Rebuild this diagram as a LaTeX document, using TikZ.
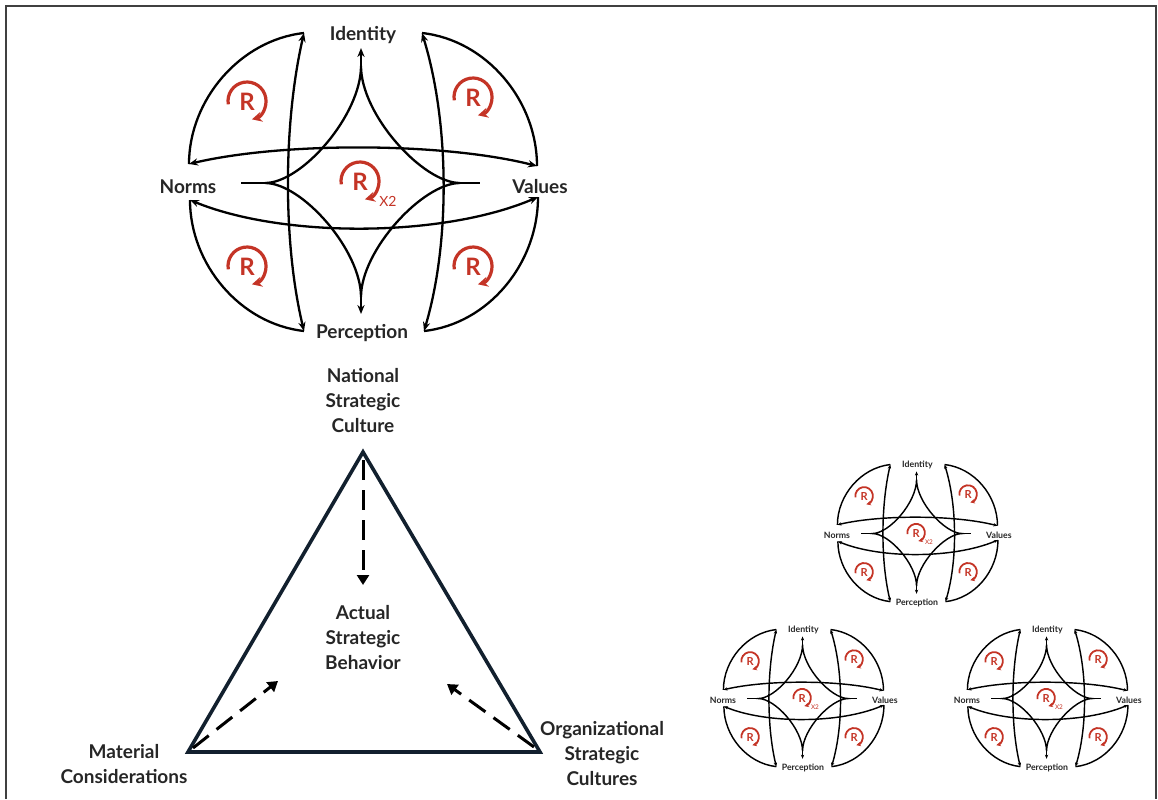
\documentclass[tikz,border=0pt]{standalone}
\usepackage{fontspec}
\setmainfont{Lato}
\usetikzlibrary{positioning, arrows.meta}
\definecolor{loopred}{RGB}{196,52,38}
\definecolor{edgenavy}{RGB}{18,32,46}

% red reinforcing loop: #1 = name, #2 = position
\newcommand{\rloop}[2]{%
  \node[rlabel] (#1) at #2 {R};
  \draw[rcircle] (#1) ++(-18.7,2.3) arc[start angle=-190, end angle=75, radius=19];
}

% culture map: #1 = prefix, #2 = centre, #3 = scale
\newcommand{\culturemap}[3]{%
  \begin{scope}[shift={#2}, scale=#3, transform shape,
      loopline/.style={line width=#3*0.8pt+0.35pt},
      looptip/.style={{Stealth[length=4.5pt, width=3.6pt, scale=#3]}-{Stealth[length=4.5pt, width=3.6pt, scale=#3]}},
      onetip/.style={-{Stealth[length=4.5pt, width=3.6pt, scale=#3]}},
      rcircle/.style={draw=loopred, line width=#3*1.3pt+0.3pt, -{Stealth[length=5pt, width=5pt, scale=#3]}}]
    % labels
    \node[lbl] (#1-id) at (1,-149) {Identity};
    \node[lbl] (#1-pe) at (0,149) {Perception};
    \node[lbl] (#1-no) at (-174,3) {Norms};
    \node[lbl] (#1-va) at (178,3) {Values};
    % loop corners
    \coordinate (#1-nt) at (-173,-20);
    \coordinate (#1-nb) at (-172,16);
    \coordinate (#1-vt) at (175,-18);
    \coordinate (#1-vb) at (176,13);
    \coordinate (#1-il) at (-58,-151);
    \coordinate (#1-ir) at (60,-151);
    \coordinate (#1-pl) at (-58,147);
    \coordinate (#1-pr) at (62,147);
    % cross links
    \draw[loopline, looptip] (#1-nt) .. controls (-80,-42) and (80,-42) .. (#1-vt);
    \draw[loopline, looptip] (#1-nb) .. controls (-80,54) and (80,54) .. (#1-vb);
    \draw[loopline, looptip] (#1-il) .. controls (-79,-60) and (-79,60) .. (#1-pl);
    \draw[loopline, looptip] (#1-ir) .. controls (88,-60) and (88,60) .. (#1-pr);
    % outer arcs
    \draw[loopline] (#1-il) .. controls (-122,-144) and (-173,-84) .. (#1-nt);
    \draw[loopline] (#1-ir) .. controls (124,-144) and (175,-84) .. (#1-vt);
    \draw[loopline] (#1-nb) .. controls (-172,80) and (-122,140) .. (#1-pl);
    \draw[loopline] (#1-vb) .. controls (176,80) and (126,140) .. (#1-pr);
    % inner star
    \coordinate (#1-st) at (-1,-118);
    \coordinate (#1-sl) at (-97,-1);
    \coordinate (#1-sb) at (-1,113);
    \coordinate (#1-sr) at (98,-1);
    \coordinate (#1-it) at (-1,-136);
    \coordinate (#1-pt) at (-1,130);
    \coordinate (#1-nx) at (-121,-1);
    \coordinate (#1-vx) at (118,-1);
    \draw[loopline] (#1-st) .. controls (-1,-69) and (-60,-1) .. (#1-sl)
      .. controls (-60,-1) and (-1,66) .. (#1-sb)
      .. controls (-1,66) and (61,-1) .. (#1-sr)
      .. controls (61,-1) and (-1,-69) .. (#1-st);
    \draw[loopline, onetip] (#1-st) -- (#1-it);
    \draw[loopline, onetip] (#1-sb) -- (#1-pt);
    \draw[loopline] (#1-sl) -- (#1-nx);
    \draw[loopline] (#1-sr) -- (#1-vx);
    % reinforcing loops
    \rloop{#1-r1}{(-115,-82)}
    \rloop{#1-r2}{(111,-86)}
    \rloop{#1-r3}{(-115,83)}
    \rloop{#1-r4}{(111,83)}
    \rloop{#1-rc}{(-2,-2)}
    \node[xlabel] (#1-x2) at (26,17) {X2};
  \end{scope}
}

\begin{document}
\begin{tikzpicture}[x=0.5pt, y=-0.5pt,
    lbl/.style={font=\bfseries\fontsize{9.5}{12.5}\selectfont, text=black!85, align=center, inner sep=0pt},
    rlabel/.style={font=\bfseries\fontsize{12}{12}\selectfont, text=loopred, inner sep=0pt},
    xlabel/.style={font=\fontsize{7}{7}\selectfont, text=loopred, inner sep=0pt},
    tri/.style={draw=edgenavy, line width=1.8pt, line join=miter},
    flow/.style={line width=1.5pt, dash pattern=on 10pt off 5pt, -{Triangle[length=5pt, width=6pt]}},
    frame/.style={draw=black!75, line width=1pt}]
  \useasboundingbox (0,0) rectangle (1158,799);
  \draw[frame] (6,799) -- (6,6) -- (1156,6) -- (1156,799);

  % Big culture map
  \culturemap{big}{(362,184)}{1}

  % Triangle of influences
  \coordinate (natcorner) at (363,452);
  \coordinate (matcorner) at (188,752);
  \coordinate (orgcorner) at (540,752);
  \draw[tri] (natcorner) -- (matcorner) -- (orgcorner) -- cycle;
  \node[lbl, above=9.5pt of natcorner] (nat) {National\\Strategic\\Culture};
  \node[lbl] (act) at (363,638) {Actual\\Strategic\\Behavior};
  \node[lbl] (mat) at (124,764) {Material\\Considerations};
  \node[lbl] (org) at (602,754) {Organizational\\Strategic\\Cultures};
  \coordinate (natstart) at (363,460);
  \coordinate (natend) at (363,585);
  \coordinate (matstart) at (193,748);
  \coordinate (matend) at (278,681);
  \coordinate (orgstart) at (534,747);
  \coordinate (orgend) at (447,684);
  \draw[flow] (natstart) -- (natend);
  \draw[flow] (matstart) -- (matend);
  \draw[flow] (orgstart) -- (orgend);

  % Three smaller copies
  \culturemap{top}{(917,534)}{0.46}
  \culturemap{left}{(803,699)}{0.46}
  \culturemap{right}{(1047,699)}{0.46}
\end{tikzpicture}
\end{document}
